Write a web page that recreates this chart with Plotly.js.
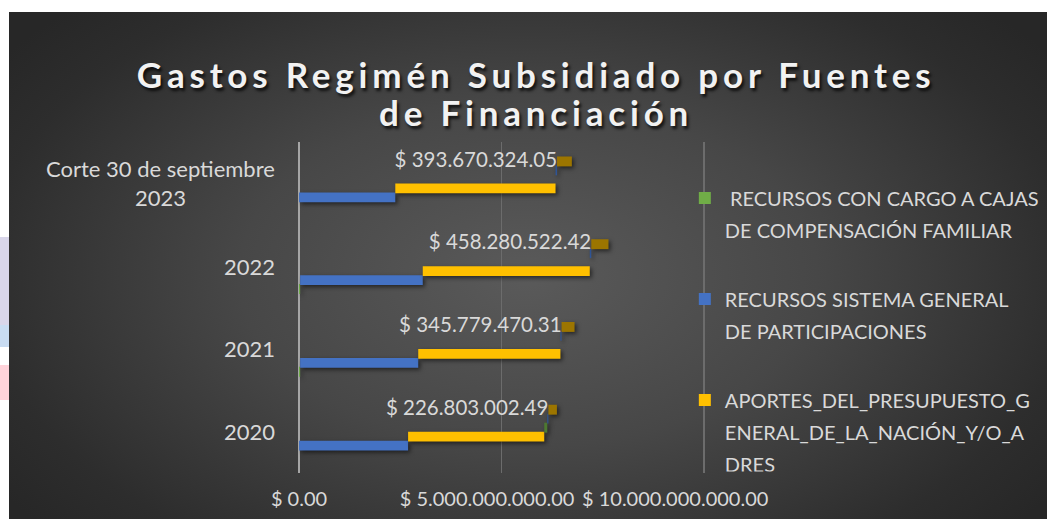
<!DOCTYPE html>
<html>
<head>
<meta charset="utf-8">
<script src="https://cdn.plot.ly/plotly-3.0.1.min.js"></script>
<style>
  html, body { margin: 0; padding: 0; background: #ffffff; }
  #wrap { position: relative; width: 1047px; height: 519px; overflow: hidden; }
  #bg { position: absolute; left: 9px; top: 12px; width: 1038px; height: 507px;
        background: radial-gradient(ellipse 62% 75% at 50% 52%, #5a5a5a 0%, #474747 45%, #2d2d2d 85%, #272727 100%); }
  .strip { position: absolute; left: 0; width: 9px; }
  #chart { position: absolute; left: 0; top: 0; width: 1047px; height: 519px; }
  .gtitle { letter-spacing: 4.8px; }
  .barlayer .point path { filter: drop-shadow(2px 2px 2px rgba(0,0,0,0.55)); }
</style>
</head>
<body>
<div id="wrap">
  <div id="bg"></div>
  <div class="strip" style="top:237px;height:88px;background:#d9d6ea;"></div>
  <div class="strip" style="top:325px;height:22px;background:#c9dcf2;"></div>
  <div class="strip" style="top:365px;height:35px;background:#ffd3da;"></div>
  <div id="chart"></div>
</div>
<script>
// ---- data ----
const categories = ['2020', '2021', '2022', 'Corte 30 de septiembre<br>2023'];
const cajasCompensacion = [0, 30000000, 30000000, 0];                    // green
const sistemaGeneralParticipaciones = [2900000000, 3140000000, 3260000000, 2560000000]; // blue
const presupuestoGeneralAdres = [3620000000, 3780000000, 4440000000, 4260000000];       // yellow
const serie4 = [80000000, 0, 0, 0];                                     // dark green
const serie5 = [30000000, 30000000, 40000000, 40000000];                // dark blue
const serie6 = [226803002.49, 345779470.31, 458280522.42, 393670324.05]; // dark gold (labelled)
const seriesNames = [
  ' RECURSOS CON CARGO A CAJAS<br>DE COMPENSACIÓN FAMILIAR',
  'RECURSOS SISTEMA GENERAL<br>DE PARTICIPACIONES',
  'APORTES_DEL_PRESUPUESTO_G<br>ENERAL_DE_LA_NACIÓN_Y/O_A<br>DRES',
  'Serie 4', 'Serie 5', 'Serie 6'
];
const xTickVals = [0, 5000000000, 10000000000];
const xTickText = ['$ 0.00', '$ 5.000.000.000.00', '$ 10.000.000.000.00'];
const gridVals = [5000000000, 10000000000];

// ---- styling ----
const colors = ['#70AD47', '#4472C4', '#FFC000', '#4E7A32', '#2F5597', '#9C7500'];
const barWidth = 0.12;
const centers = [-0.277, -0.169, -0.060, 0.048, 0.157, 0.265];
const backWallFactor = 1.077;   // 3-D perspective: back-wall gridlines sit a little further out
const allSeries = [cajasCompensacion, sistemaGeneralParticipaciones, presupuestoGeneralAdres, serie4, serie5, serie6];
const pos = categories.map((c, i) => i);

function fmt(v) {
  const intPart = Math.floor(v);
  const dec = Math.round((v - intPart) * 100);
  const s = String(intPart).replace(/\B(?=(\d{3})+(?!\d))/g, '.');
  return '$ ' + s + '.' + String(dec).padStart(2, '0');
}

const traces = [];
const cum = categories.map(() => 0);
allSeries.forEach((vals, k) => {
  traces.push({
    type: 'bar', orientation: 'h',
    name: seriesNames[k],
    x: vals, y: pos, base: cum.slice(),
    offset: centers[k] - barWidth / 2, width: barWidth,
    marker: { color: colors[k], line: { width: 0 } },
    showlegend: k < 3,
    legendgroup: 'g' + k,
    hoverinfo: 'x+name'
  });
  vals.forEach((v, i) => { if (k < 5) cum[i] += v; });
});
// data labels for the last series, placed at the left edge of its bars
traces.push({
  type: 'scatter', mode: 'text',
  x: cum.slice(), y: pos.map(p => p + centers[5]),
  text: serie6.map(fmt), textposition: 'middle left',
  textfont: { family: 'Lato, sans-serif', size: 20.5, color: '#D9D9D9' },
  showlegend: false, hoverinfo: 'skip', cliponaxis: false
});

const font = { family: 'Lato, sans-serif', color: '#D9D9D9', size: 20 };
const annotations = categories.map((c, i) => ({
  xref: 'paper', yref: 'y', x: 0, y: i, xanchor: 'right', yanchor: 'middle',
  xshift: -22, text: c, showarrow: false, align: 'center',
  font: { family: 'Lato, sans-serif', size: 22, color: '#D9D9D9' }
}));

const layout = {
  width: 1047, height: 519,
  paper_bgcolor: 'rgba(0,0,0,0)', plot_bgcolor: 'rgba(0,0,0,0)',
  margin: { l: 299, r: 341, t: 141.5, b: 45.5, autoexpand: false },
  font: font,
  title: {
    text: 'Gastos Regimén Subsidiado por Fuentes<br>de Financiación',
    font: { family: 'Lato, sans-serif', size: 35, weight: 700, color: '#F2F2F2', shadow: '2px 3px 3px rgba(0,0,0,0.75)' },
    xref: 'container', x: 0.512, yref: 'container', y: 1 - 88 / 519, yanchor: 'top'
  },
  barmode: 'overlay',
  xaxis: {
    range: [0, 10820000000], tickvals: xTickVals, ticktext: xTickText, tickangle: 0,
    showgrid: false, zeroline: true, zerolinecolor: '#A6A6A6', zerolinewidth: 2,
    minor: { tickmode: 'array', tickvals: gridVals.map(v => v * backWallFactor),
             showgrid: true, gridcolor: '#6c6c6c', gridwidth: 1.3, ticks: '' },
    showline: false, ticks: '', ticklabelstandoff: 12,
    tickfont: { family: 'Lato, sans-serif', size: 20, color: '#D9D9D9' },
    fixedrange: true
  },
  yaxis: {
    range: [-0.5, 3.5], tickvals: pos, showticklabels: false,
    showgrid: false, zeroline: false, showline: false, ticks: '', fixedrange: true
  },
  annotations: annotations,
  showlegend: true,
  legend: {
    x: 0.948, xanchor: 'left', y: 0.89, yanchor: 'top',
    traceorder: 'grouped', valign: 'top', tracegroupgap: 46,
    bgcolor: 'rgba(0,0,0,0)',
    font: { family: 'Lato, sans-serif', size: 20, color: '#D9D9D9' }
  }
};

Plotly.newPlot('chart', traces, layout, { displayModeBar: false, staticPlot: true }).then(gd => {
  // widen legend line spacing to match the reference (32px between lines)
  gd.querySelectorAll('.legend .legendtext').forEach(t => {
    t.querySelectorAll('tspan.line').forEach((ln, idx) => {
      ln.setAttribute('dy', (idx * 32) + 'px');
    });
  });
  // title line spacing as in the reference
  gd.querySelectorAll('.gtitle tspan.line').forEach((ln, idx) => {
    ln.setAttribute('dy', (idx * 38) + 'px');
  });
});
</script>
</body>
</html>
